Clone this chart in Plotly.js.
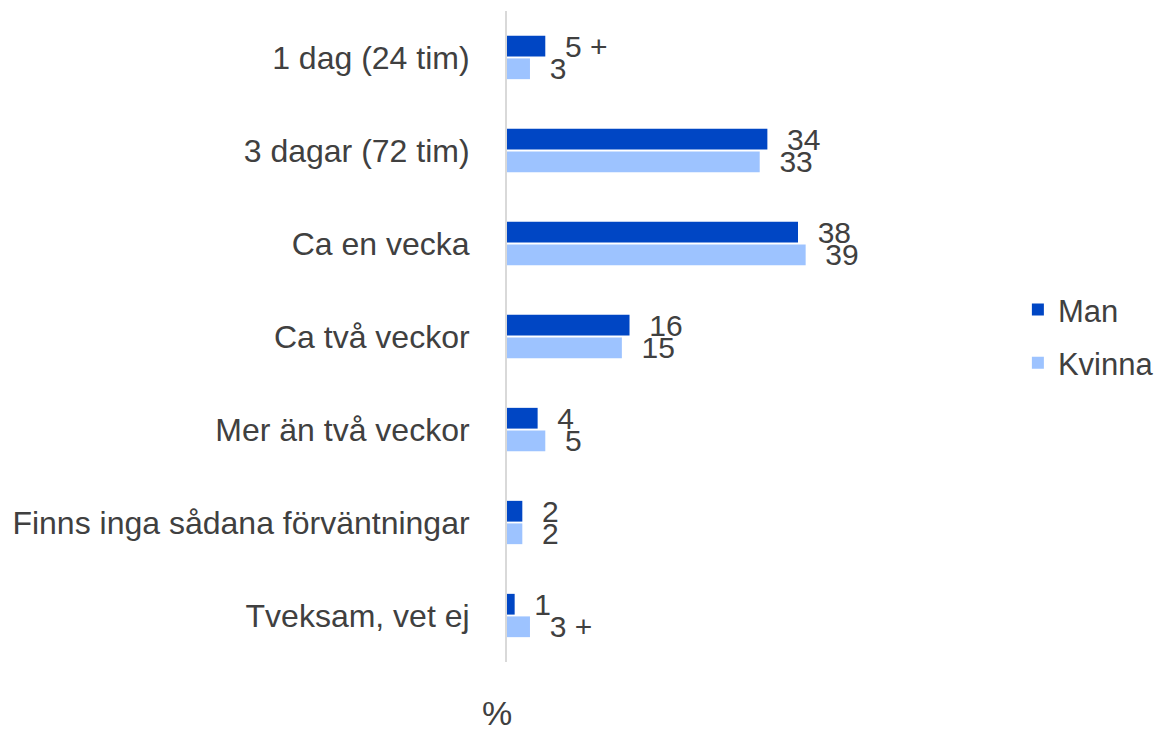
<!DOCTYPE html>
<html>
<head>
<meta charset="utf-8">
<script src="https://cdn.plot.ly/plotly-3.0.1.min.js"></script>
<style>
  html, body { margin: 0; padding: 0; background: #ffffff; }
  #chart { width: 1158px; height: 731px; }
</style>
</head>
<body>
<div id="chart"></div>
<script>
// kategorier (uppifrån och ned)
const categories = [
  "1 dag (24 tim)",
  "3 dagar (72 tim)",
  "Ca en vecka",
  "Ca två veckor",
  "Mer än två veckor",
  "Finns inga sådana förväntningar",
  "Tveksam, vet ej"
];

// andelar i procent
const manValues = [5, 34, 38, 16, 4, 2, 1];
const kvinnaValues = [3, 33, 39, 15, 5, 2, 3];

// etiketter, "+" markerar signifikant skillnad
const manLabels = ["5 +", "34", "38", "16", "4", "2", "1"];
const kvinnaLabels = ["3", "33", "39", "15", "5", "2", "3 +"];

const textColor = "#404040";
const fontFamily = "'Liberation Sans', Arial, sans-serif";

const traceMan = {
  type: "bar",
  orientation: "h",
  name: "Man",
  legendgroup: "man",
  y: categories,
  x: manValues,
  text: manLabels,
  texttemplate: "  %{text}",
  textposition: "outside",
  constraintext: "none",
  cliponaxis: false,
  textfont: { size: 30, color: textColor, family: fontFamily },
  marker: { color: "#0046C4" },
  hoverinfo: "none"
};

const traceKvinna = {
  type: "bar",
  orientation: "h",
  name: "Kvinna",
  legendgroup: "kvinna",
  y: categories,
  x: kvinnaValues,
  text: kvinnaLabels,
  texttemplate: "  %{text}",
  textposition: "outside",
  constraintext: "none",
  cliponaxis: false,
  textfont: { size: 30, color: textColor, family: fontFamily },
  marker: { color: "#9DC3FF" },
  hoverinfo: "none"
};

const layout = {
  width: 1158,
  height: 731,
  margin: { l: 507, r: 190, t: 11, b: 69, autoexpand: false },
  paper_bgcolor: "#ffffff",
  plot_bgcolor: "#ffffff",
  font: { family: fontFamily, color: textColor, size: 30 },
  barmode: "group",
  bargap: 0.515,
  bargroupgap: 0.08,
  showlegend: true,
  legend: {
    xref: "container",
    yref: "container",
    x: 0.879,
    xanchor: "left",
    y: 0.540,
    yanchor: "middle",
    traceorder: "grouped",
    tracegroupgap: 10,
    font: { size: 31, color: textColor, family: fontFamily },
    bgcolor: "rgba(0,0,0,0)"
  },
  xaxis: {
    range: [0, 60.2],
    showgrid: false,
    zeroline: false,
    showline: false,
    showticklabels: false,
    ticks: ""
  },
  yaxis: {
    type: "category",
    range: [6.5, -0.5],
    showgrid: false,
    zeroline: false,
    showline: true,
    linecolor: "#d9d9d9",
    linewidth: 2,
    ticks: "outside",
    ticklen: 29,
    tickcolor: "rgba(0,0,0,0)",
    tickfont: { size: 32, color: textColor, family: fontFamily }
  },
  annotations: [
    {
      text: "%",
      xref: "paper",
      yref: "paper",
      x: 0,
      xshift: -10,
      y: -0.078,
      xanchor: "center",
      yanchor: "middle",
      showarrow: false,
      font: { size: 34, color: textColor, family: fontFamily }
    }
  ]
};

Plotly.newPlot("chart", [traceMan, traceKvinna], layout, { staticPlot: true, displayModeBar: false });
</script>
</body>
</html>
